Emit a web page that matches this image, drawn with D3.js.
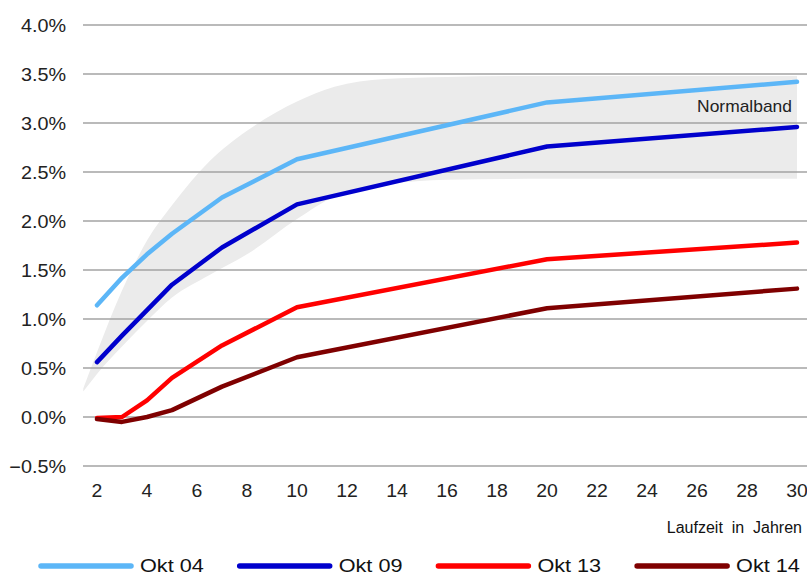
<!DOCTYPE html>
<html>
<head>
<meta charset="utf-8">
<script src="https://cdn.jsdelivr.net/npm/d3@7"></script>
<style>
  html, body { margin: 0; padding: 0; background: #fff; }
  svg { display: block; font-family: "Liberation Sans", Arial, Helvetica, sans-serif; }
</style>
</head>
<body>
<svg id="chart" width="807" height="576"></svg>
<script>
// Maturities in years
const maturities = [2, 3, 4, 5, 7, 10, 20, 30];

// Yield curves (percent)
const okt04 = [1.14, 1.42, 1.66, 1.87, 2.24, 2.63, 3.21, 3.42];
const okt09 = [0.56, 0.83, 1.09, 1.35, 1.73, 2.17, 2.76, 2.96];
const okt13 = [-0.01, 0.00, 0.17, 0.40, 0.73, 1.12, 1.61, 1.78];
const okt14 = [-0.02, -0.05, 0.00, 0.07, 0.31, 0.61, 1.11, 1.31];

const seriesNames = ["Okt 04", "Okt 09", "Okt 13", "Okt 14"];
const seriesColors = ["#5cb6f7", "#0000cc", "#ff0000", "#7f0000"];

// Normal band (lower / upper bound, percent)
const bandYears = [1.45, 2, 3, 4, 5, 6.5, 8, 10, 11.5, 13.5, 16, 20, 30];
const bandLow   = [0.26, 0.44, 0.72, 0.98, 1.22, 1.45, 1.66, 2.02, 2.25, 2.37, 2.42, 2.43, 2.43];
const bandHigh  = [0.29, 0.66, 1.29, 1.80, 2.16, 2.61, 2.92, 3.22, 3.37, 3.45, 3.47, 3.48, 3.48];

// Axis ticks
const yTicks = [-0.5, 0, 0.5, 1.0, 1.5, 2.0, 2.5, 3.0, 3.5, 4.0];
const xTicks = [2, 4, 6, 8, 10, 12, 14, 16, 18, 20, 22, 24, 26, 28, 30];

const svg = d3.select("#chart");

const x = d3.scaleLinear().domain([2, 30]).range([97, 797]);
const y = d3.scaleLinear().domain([-0.5, 4.0]).range([466, 25]);
const gridLeft = 83, gridRight = 807;

// Normal band area
const bandData = bandYears.map((t, i) => ({ t, lo: bandLow[i], hi: bandHigh[i] }));
svg.append("path")
  .datum(bandData)
  .attr("fill", "#ebebeb")
  .attr("d", d3.area()
    .x(d => x(d.t))
    .y0(d => y(d.lo))
    .y1(d => y(d.hi))
    .curve(d3.curveMonotoneX));

// Horizontal gridlines
svg.append("g").selectAll("line")
  .data(yTicks)
  .join("line")
  .attr("x1", gridLeft)
  .attr("x2", gridRight)
  .attr("y1", d => y(d))
  .attr("y2", d => y(d))
  .attr("stroke", "#a3a3a3")
  .attr("stroke-width", 1.5);

// Y tick labels
const fmt = d3.format(".1f");
svg.append("g").selectAll("text")
  .data(yTicks)
  .join("text")
  .attr("transform", d => `translate(66,${y(d) + 6.5}) scale(1.1,1)`)
  .attr("text-anchor", "end")
  .attr("font-size", 18)
  .attr("fill", "#222")
  .text(d => fmt(d) + "%");

// X tick labels
svg.append("g").selectAll("text")
  .data(xTicks)
  .join("text")
  .attr("transform", d => `translate(${x(d)},497) scale(1.08,1)`)
  .attr("text-anchor", "middle")
  .attr("font-size", 18)
  .attr("fill", "#222")
  .text(d => d);

// Axis title
svg.append("text")
  .attr("x", 802)
  .attr("y", 533)
  .attr("text-anchor", "end")
  .attr("font-size", 16)
  .attr("fill", "#111")
  .style("white-space", "pre")
  .text("Laufzeit  in  Jahren");

// Band label
svg.append("text")
  .attr("transform", "translate(792,112) scale(1.09,1)")
  .attr("text-anchor", "end")
  .attr("font-size", 16)
  .attr("fill", "#222")
  .text("Normalband");

// Yield curve lines
const allSeries = [okt04, okt09, okt13, okt14];
const line = d3.line()
  .x((d, i) => x(maturities[i]))
  .y(d => y(d));

svg.append("g").selectAll("path")
  .data(allSeries)
  .join("path")
  .attr("fill", "none")
  .attr("stroke", (d, i) => seriesColors[i])
  .attr("stroke-width", 4.5)
  .attr("stroke-linecap", "round")
  .attr("stroke-linejoin", "round")
  .attr("d", d => line(d));

// Legend
const legend = svg.append("g").selectAll("g")
  .data(seriesNames)
  .join("g")
  .attr("transform", (d, i) => `translate(${41 + i * 198.7},566)`);

legend.append("line")
  .attr("x1", 0).attr("x2", 90)
  .attr("y1", 0).attr("y2", 0)
  .attr("stroke", (d, i) => seriesColors[i])
  .attr("stroke-width", 5.5)
  .attr("stroke-linecap", "round");

legend.append("text")
  .attr("transform", "translate(99,5.5) scale(1.14,1)")
  .attr("font-size", 19)
  .attr("fill", "#111")
  .text(d => d);
</script>
</body>
</html>
